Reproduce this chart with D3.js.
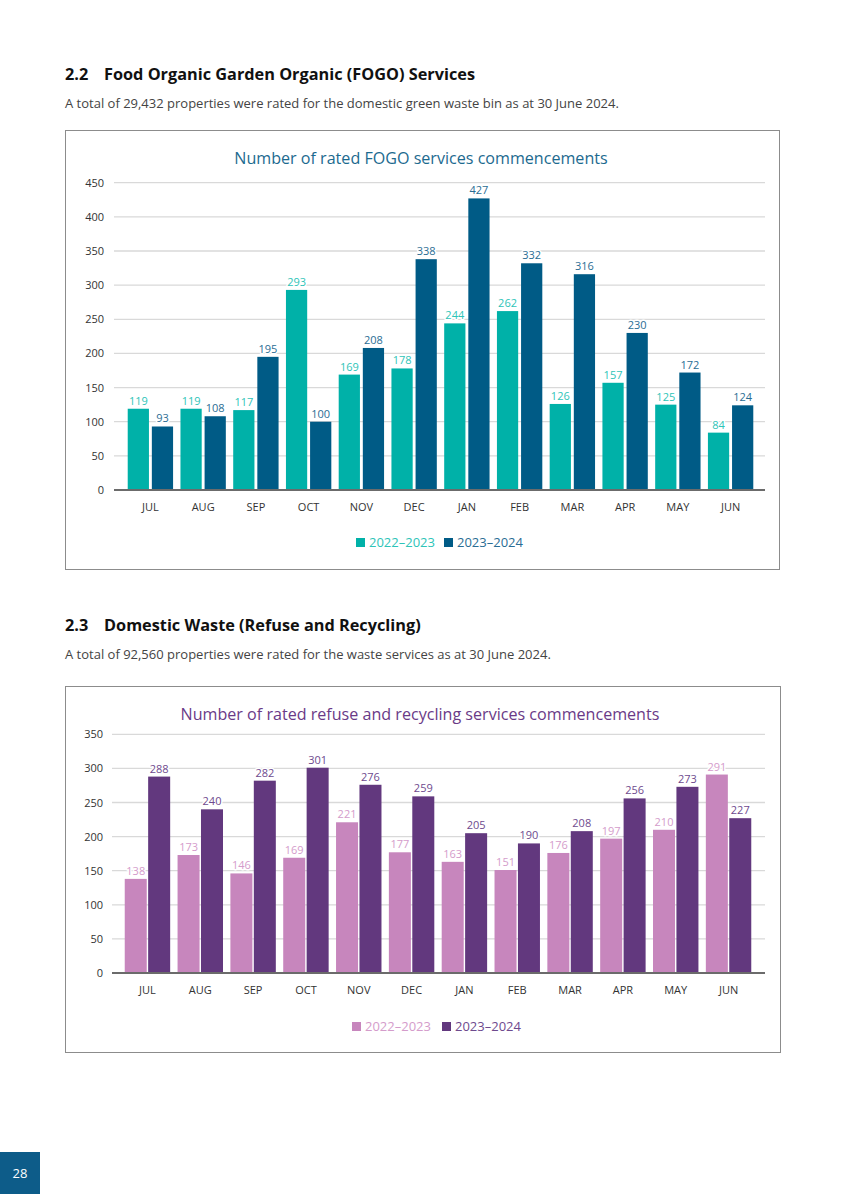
<!DOCTYPE html>
<html><head><meta charset="utf-8">
<script src="https://cdn.jsdelivr.net/npm/d3@7"></script>
<style>
html,body{margin:0;padding:0;background:#fff;}
svg{display:block;font-family:"Open Sans","Noto Sans",sans-serif;}
</style></head>
<body>
<svg id="page" width="843" height="1194"></svg>
<script>
const months = ["JUL","AUG","SEP","OCT","NOV","DEC","JAN","FEB","MAR","APR","MAY","JUN"];
const seriesNames = ["2022–2023","2023–2024"];
const fogo2223 = [119,119,117,293,169,178,244,262,126,157,125,84];
const fogo2324 = [93,108,195,100,208,338,427,332,316,230,172,124];
const waste2223 = [138,173,146,169,221,177,163,151,176,197,210,291];
const waste2324 = [288,240,282,301,276,259,205,190,208,256,273,227];
const fogoTicks = [0,50,100,150,200,250,300,350,400,450];
const wasteTicks = [0,50,100,150,200,250,300,350];

const FONT = "'Open Sans','Noto Sans',sans-serif";
const svg = d3.select("#page");

function section(y, num, title, sub){
  const g = svg.append("g");
  g.append("text").attr("x",65).attr("y",y).attr("font-size",16.3).attr("font-weight",700).attr("fill","#111").text(num);
  g.append("text").attr("x",104).attr("y",y).attr("font-size",16.3).attr("font-weight",700).attr("fill","#111").text(title);
  g.append("text").attr("x",65).attr("y",y+28).attr("font-size",13).attr("fill","#444").text(sub);
}
section(80,"2.2","Food Organic Garden Organic (FOGO) Services","A total of 29,432 properties were rated for the domestic green waste bin as at 30 June 2024.");
section(631,"2.3","Domestic Waste (Refuse and Recycling)","A total of 92,560 properties were rated for the waste services as at 30 June 2024.");

function drawChart(o){
  const g = svg.append("g");
  g.append("rect").attr("x",o.box[0]+0.5).attr("y",o.box[1]+0.5).attr("width",o.box[2]).attr("height",o.box[3])
    .attr("fill","#fff").attr("stroke","#8c8c8c").attr("stroke-width",1);
  g.append("text").attr("x",o.titleX).attr("y",o.titleY).attr("text-anchor","middle")
    .attr("font-size",16.1).attr("fill",o.titleColor).text(o.title);

  const y = d3.scaleLinear().domain([0,o.ticks[o.ticks.length-1]]).range([o.y0,o.yTop]);
  const x = d3.scaleBand().domain(months).range([o.xL,o.xR]).paddingInner(0.14).paddingOuter(0.26);
  const xs = d3.scaleBand().domain([0,1]).range([0,x.bandwidth()]).paddingInner(o.pairGap);

  g.append("g").selectAll("line").data(o.ticks.slice(1)).join("line")
    .attr("x1",o.gx0).attr("x2",o.gx1).attr("y1",d=>y(d)).attr("y2",d=>y(d))
    .attr("stroke","#d9d9d9").attr("stroke-width",1.3);
  const yAxis = d3.axisLeft(y).tickValues(o.ticks).tickSize(0).tickPadding(0);
  const ya = g.append("g").attr("transform",`translate(${o.yLabX},0)`).call(yAxis);
  ya.select(".domain").remove();
  ya.selectAll("text").attr("font-size",11).attr("fill","#333").attr("font-family",FONT);

  const series = [o.s1,o.s2];
  series.forEach((arr,si)=>{
    g.append("g").selectAll("rect").data(arr).join("rect")
      .attr("x",(d,i)=>x(months[i])+xs(si)).attr("width",xs.bandwidth())
      .attr("y",d=>y(d)).attr("height",d=>o.y0-y(d)).attr("fill",o.colors[si]);
  });
  series.forEach((arr,si)=>{
    g.append("g").selectAll("text").data(arr).join("text")
      .attr("x",(d,i)=>x(months[i])+xs(si)+xs.bandwidth()/2).attr("y",d=>y(d)-4)
      .attr("text-anchor","middle").attr("font-size",11).attr("fill",o.labelColors[si])
      .attr("stroke","#fff").attr("stroke-width",3).attr("paint-order","stroke").attr("stroke-linejoin","round")
      .text(d=>d);
  });
  g.append("line").attr("x1",o.gx0).attr("x2",o.gx1).attr("y1",o.y0).attr("y2",o.y0).attr("stroke","#6b6b6b").attr("stroke-width",2);
  const xAxis = d3.axisBottom(x).tickSize(0).tickPadding(0);
  const xa = g.append("g").attr("transform",`translate(0,${o.y0+21})`).call(xAxis);
  xa.select(".domain").remove();
  xa.selectAll("text").attr("font-size",11).attr("fill","#333").attr("font-family",FONT).attr("dy","0");
  const lg = g.append("g");
  seriesNames.forEach((n,i)=>{
    lg.append("rect").attr("x",o.legX[i]).attr("y",o.legY-9).attr("width",9).attr("height",9).attr("fill",o.colors[i]);
    lg.append("text").attr("x",o.legX[i]+13).attr("y",o.legY).attr("font-size",13).attr("fill",o.labelColors[i]).text(n);
  });
}

drawChart({
  box:[65,130,714,439], title:"Number of rated FOGO services commencements", titleX:421, titleY:164, titleColor:"#1c6a8f",
  ticks:fogoTicks, y0:490, yTop:182.7, xL:114, xR:767, gx0:114, gx1:765, yLabX:104, pairGap:0.12,
  s1:fogo2223, s2:fogo2324, colors:["#00b1a8","#005b86"], labelColors:["#2ec4b8","#2a6d94"],
  legX:[356,444], legY:547
});
drawChart({
  box:[65,686,715,366], title:"Number of rated refuse and recycling services commencements", titleX:420, titleY:720, titleColor:"#6a3a87",
  ticks:wasteTicks, y0:973, yTop:734.3, xL:111, xR:765, gx0:112, gx1:765, yLabX:103, pairGap:0.06,
  s1:waste2223, s2:waste2324, colors:["#c786bd","#62387e"], labelColors:["#d49ccb","#6e4a8e"],
  legX:[352,442], legY:1031
});

svg.append("rect").attr("x",0).attr("y",1152).attr("width",40).attr("height",42).attr("fill","#0d5c89");
svg.append("text").attr("x",20).attr("y",1178).attr("text-anchor","middle").attr("font-size",13).attr("fill","#fff").text("28");
</script>
</body></html>
